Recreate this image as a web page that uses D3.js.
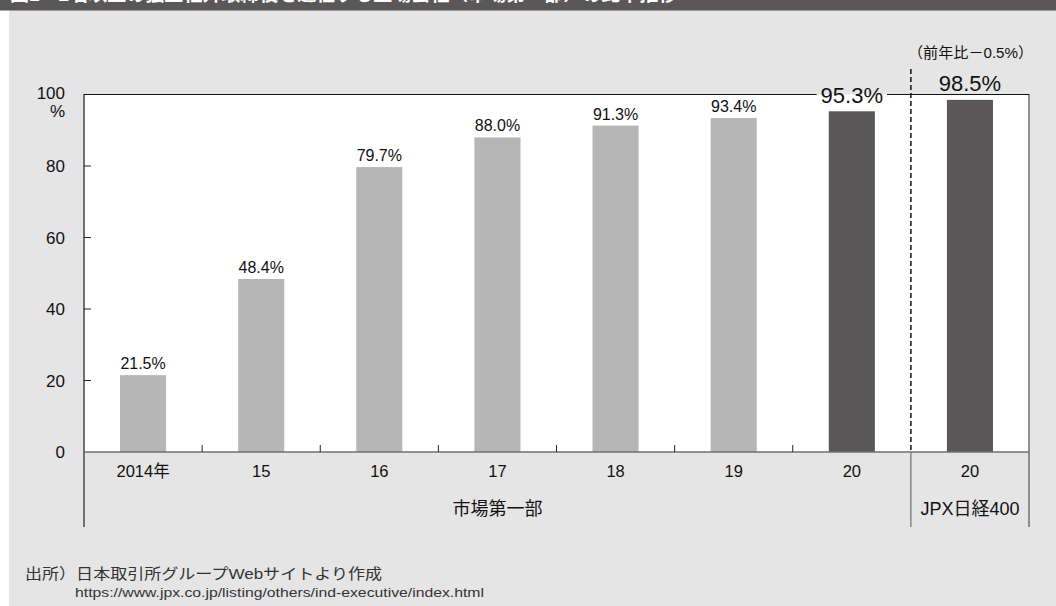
<!DOCTYPE html>
<html>
<head>
<meta charset="utf-8">
<script src="https://cdn.jsdelivr.net/npm/d3@7"></script>
<style>
  html, body { margin: 0; padding: 0; background: #fff; }
  svg { display: block; font-family: "Liberation Sans", "Noto Sans CJK JP", sans-serif; }
</style>
</head>
<body>
<svg id="chart" width="1056" height="606"></svg>
<script>
const categories = ["2014年", "15", "16", "17", "18", "19", "20", "20"];
const values = [21.5, 48.4, 79.7, 88.0, 91.3, 93.4, 95.3, 98.5];
const highlight = [false, false, false, false, false, false, true, true];
const groups = [
  { label: "市場第一部", from: 0, to: 6 },
  { label: "JPX日経400", from: 7, to: 7 }
];
const yTicks = [0, 20, 40, 60, 80, 100];
const title = "図1　2名以上の独立社外取締役を選任する上場会社（市場第一部）の比率推移";
const changeNote = "（前年比－0.5%）";
const sourceLines = [
  "出所）日本取引所グループWebサイトより作成",
  "https://www.jpx.co.jp/listing/others/ind-executive/index.html"
];

(() => {
  const width = 1056;
  const height = 606;
  const plot = { left: 84, right: 1029, top: 94.5, bottom: 452 };
  const axisBottomEnd = 527;
  const LIGHT = "#b5b6b5";
  const DARK = "#595757";
  const AXIS = "#707070";

  const svg = d3.select("#chart");

  // background panel + header strip
  svg.append("rect").attr("x", 9).attr("y", 0).attr("width", width - 9).attr("height", height).attr("fill", "#e5e5e5");
  svg.append("rect").attr("x", 0).attr("y", 0).attr("width", width).attr("height", 10.5).attr("fill", DARK);
  svg.append("text")
    .attr("x", 10).attr("y", 1)
    .attr("fill", "#fff")
    .style("font-size", "19px")
    .style("font-weight", "bold")
    .text(title);

  svg.append("rect")
    .attr("x", plot.left).attr("y", plot.top)
    .attr("width", plot.right - plot.left).attr("height", plot.bottom - plot.top)
    .attr("fill", "#fff");

  const x = d3.scaleBand()
    .domain(d3.range(categories.length))
    .range([plot.left, plot.right])
    .paddingInner(0.61)
    .paddingOuter(0.305);

  const step = x.step();
  const boundary = i => i >= categories.length ? plot.right : x(i) - step * x.paddingInner() / 2;

  const y = d3.scaleLinear()
    .domain([0, 100])
    .range([plot.bottom, plot.top]);

  // bars
  svg.selectAll("rect.bar")
    .data(values)
    .join("rect")
    .attr("class", "bar")
    .attr("x", (d, i) => x(i))
    .attr("y", d => y(d))
    .attr("width", x.bandwidth())
    .attr("height", d => y(0) - y(d))
    .attr("fill", (d, i) => highlight[i] ? DARK : LIGHT);

  // y axis
  svg.append("line")
    .attr("x1", plot.left).attr("x2", plot.left)
    .attr("y1", plot.top - 0.5).attr("y2", axisBottomEnd)
    .attr("stroke", AXIS).attr("stroke-width", 2);

  svg.selectAll("line.ytick")
    .data(yTicks.filter(t => t > 0 && t < 100))
    .join("line")
    .attr("class", "ytick")
    .attr("x1", plot.left).attr("x2", plot.left + 7)
    .attr("y1", d => y(d)).attr("y2", d => y(d))
    .attr("stroke", "#222").attr("stroke-width", 1);

  svg.selectAll("text.ylab")
    .data(yTicks)
    .join("text")
    .attr("class", "ylab")
    .attr("x", 65)
    .attr("y", d => d === 100 ? y(d) + 4.5 : y(d) + 6)
    .attr("text-anchor", "end")
    .attr("fill", "#111")
    .style("font-size", "17px")
    .text(d => d);

  svg.append("text")
    .attr("x", 65).attr("y", y(100) + 22)
    .attr("text-anchor", "end")
    .attr("fill", "#111")
    .style("font-size", "17px")
    .text("%");

  // x axis
  svg.append("line")
    .attr("x1", plot.left).attr("x2", plot.right)
    .attr("y1", plot.bottom).attr("y2", plot.bottom)
    .attr("stroke", AXIS).attr("stroke-width", 1.5);

  svg.selectAll("line.xtick")
    .data(d3.range(1, 7))
    .join("line")
    .attr("class", "xtick")
    .attr("x1", i => boundary(i)).attr("x2", i => boundary(i))
    .attr("y1", plot.bottom).attr("y2", plot.bottom - 7)
    .attr("stroke", "#222").attr("stroke-width", 1);

  svg.selectAll("text.xlab")
    .data(categories)
    .join("text")
    .attr("class", "xlab")
    .attr("x", (d, i) => x(i) + x.bandwidth() / 2)
    .attr("y", 477)
    .attr("text-anchor", "middle")
    .attr("fill", "#111")
    .style("font-size", "16.5px")
    .text(d => d);

  svg.selectAll("text.glab")
    .data(groups)
    .join("text")
    .attr("class", "glab")
    .attr("x", d => (boundary(d.from) + boundary(d.to + 1)) / 2)
    .attr("y", 515)
    .attr("text-anchor", "middle")
    .attr("fill", "#111")
    .style("font-size", "18px")
    .text(d => d.label);

  // right border
  svg.append("line")
    .attr("x1", plot.right).attr("x2", plot.right)
    .attr("y1", plot.top - 0.5).attr("y2", axisBottomEnd)
    .attr("stroke", AXIS).attr("stroke-width", 1.5);

  // group separator: dashed above axis, solid below
  const sepX = boundary(7);
  svg.append("line")
    .attr("x1", sepX).attr("x2", sepX)
    .attr("y1", 69).attr("y2", plot.bottom)
    .attr("stroke", "#111").attr("stroke-width", 1.5)
    .attr("stroke-dasharray", "5,3");
  svg.append("line")
    .attr("x1", sepX).attr("x2", sepX)
    .attr("y1", plot.bottom).attr("y2", axisBottomEnd)
    .attr("stroke", AXIS).attr("stroke-width", 1.2);

  // value labels
  const labels = svg.selectAll("text.vlab")
    .data(values)
    .join("text")
    .attr("class", "vlab")
    .attr("x", (d, i) => x(i) + x.bandwidth() / 2)
    .attr("y", (d, i) => y(d) - (highlight[i] ? 8.5 : 6))
    .attr("text-anchor", "middle")
    .attr("fill", "#111")
    .style("font-size", (d, i) => highlight[i] ? "22px" : "16px")
    .text(d => d.toFixed(1) + "%");

  // top border, broken around the 2020 market label
  const gapBox = labels.nodes()[6].getBBox();
  const gapL = gapBox.x - 4;
  const gapR = gapBox.x + gapBox.width + 4;
  [[plot.left, gapL], [gapR, plot.right]].forEach(([a, b]) => {
    svg.append("line")
      .attr("x1", a).attr("x2", b)
      .attr("y1", plot.top).attr("y2", plot.top)
      .attr("stroke", "#111").attr("stroke-width", 1.2);
  });

  svg.append("text")
    .attr("x", 908)
    .attr("y", 58)
    .attr("fill", "#111")
    .style("font-size", "15px")
    .attr("textLength", 125)
    .attr("lengthAdjust", "spacingAndGlyphs")
    .text(changeNote);

  // source
  svg.append("text")
    .attr("x", 25).attr("y", 579)
    .attr("fill", "#333")
    .style("font-size", "15px")
    .attr("textLength", 357)
    .attr("lengthAdjust", "spacingAndGlyphs")
    .text(sourceLines[0]);
  svg.append("text")
    .attr("x", 75).attr("y", 597)
    .attr("fill", "#333")
    .style("font-size", "13.5px")
    .attr("textLength", 409)
    .attr("lengthAdjust", "spacingAndGlyphs")
    .text(sourceLines[1]);
})();
</script>
</body>
</html>
